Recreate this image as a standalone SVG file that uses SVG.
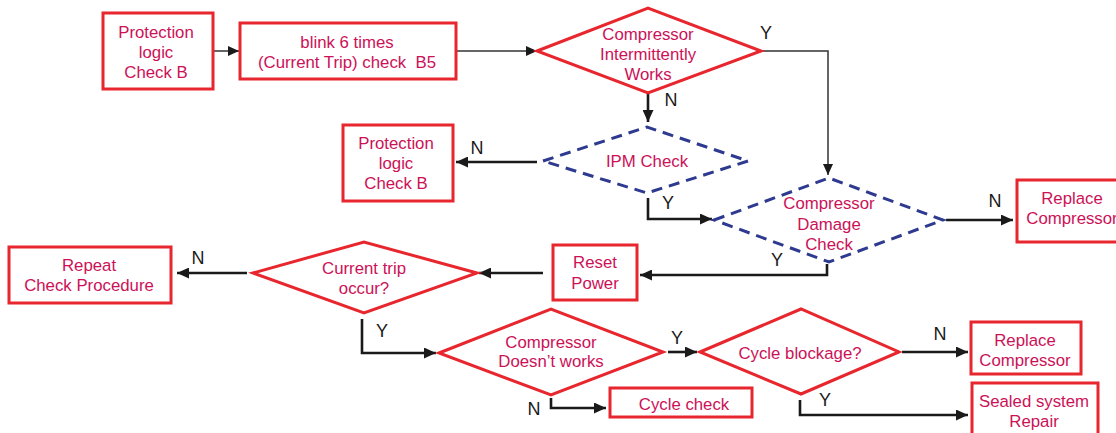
<svg xmlns="http://www.w3.org/2000/svg" width="1116" height="433" viewBox="0 0 1116 433">
<defs>
<style>
.box{fill:#fff;stroke:#e8262e;stroke-width:3}
.dia{fill:#fff;stroke:#e8262e;stroke-width:3;stroke-linejoin:miter}
.dash{fill:#fff;stroke:#2e3a8f;stroke-width:3;stroke-dasharray:11 7}
.t{font-family:"Liberation Sans",Arial,sans-serif;font-size:16.8px;fill:#cc1157;text-anchor:middle}
.lbl{font-family:"Liberation Sans",Arial,sans-serif;font-size:18px;fill:#1a1a1a;text-anchor:middle}
.thin{fill:none;stroke:#333;stroke-width:1.5;marker-end:url(#ah1)}
.thick{fill:none;stroke:#1a1a1a;stroke-width:2.6;marker-end:url(#ah2)}
</style>
<marker id="ah1" markerUnits="userSpaceOnUse" markerWidth="12" markerHeight="10" refX="11" refY="5" orient="auto"><path d="M0,0 L11,5 L0,10 z" fill="#1a1a1a"/></marker>
<marker id="ah2" markerUnits="userSpaceOnUse" markerWidth="13" markerHeight="11" refX="12" refY="5.5" orient="auto"><path d="M0,0 L12,5.5 L0,11 z" fill="#1a1a1a"/></marker>
</defs>
<rect width="1116" height="433" fill="#fff"/>
<g id="connectors">
<path class="thin" d="M213,51 H239"/>
<path class="thin" d="M456,51 H537"/>
<path class="thin" d="M761,51 H828 V175"/>
<path class="thick" d="M648,94 V122"/>
<path class="thick" d="M537,162 H456"/>
<path class="thick" d="M648,198 V219 H712"/>
<path class="thick" d="M946,220 H1013"/>
<path class="thick" d="M827,264 V275 H640"/>
<path class="thick" d="M543,273 H479"/>
<path class="thick" d="M247,273 H177"/>
<path class="thick" d="M362,319 V353 H436"/>
<path class="thick" d="M551,398 V408 H606"/>
<path class="thick" d="M668,352 H697"/>
<path class="thick" d="M902,352 H968"/>
<path class="thick" d="M800,400 V415 H968"/>
<text class="lbl" x="766" y="39">Y</text>
<text class="lbl" x="671" y="106">N</text>
<text class="lbl" x="477" y="154">N</text>
<text class="lbl" x="668" y="209">Y</text>
<text class="lbl" x="995" y="207">N</text>
<text class="lbl" x="777" y="266">Y</text>
<text class="lbl" x="198" y="264">N</text>
<text class="lbl" x="382" y="337">Y</text>
<text class="lbl" x="677" y="344">Y</text>
<text class="lbl" x="940" y="340">N</text>
<text class="lbl" x="825" y="406">Y</text>
<text class="lbl" x="534" y="415">N</text>
</g>
<g id="n1"><rect class="box" x="103" y="13" width="110" height="76"/>
<text class="t" x="156" y="38">Protection</text><text class="t" x="156" y="58">logic</text><text class="t" x="156" y="78">Check B</text></g>
<g id="n2"><rect class="box" x="240" y="23" width="216" height="56"/>
<text class="t" x="347" y="48">blink 6 times</text><text class="t" x="347" y="68" xml:space="preserve">(Current Trip) check  B5</text></g>
<g id="n3"><polygon class="dia" points="537,51 648,8 761,51 648,93"/>
<text class="t" x="648" y="40">Compressor</text><text class="t" x="648" y="60">Intermittently</text><text class="t" x="648" y="80">Works</text></g>
<g id="n4"><polygon class="dash" points="543,161 647,127 748,161 647,193"/>
<text class="t" x="647" y="167">IPM Check</text></g>
<g id="n5"><rect class="box" x="343" y="125" width="110" height="76"/>
<text class="t" x="396" y="149">Protection</text><text class="t" x="396" y="169">logic</text><text class="t" x="396" y="189">Check B</text></g>
<g id="n6"><polygon class="dash" points="714,220 829,178 943,220 829,262"/>
<text class="t" x="829" y="209">Compressor</text><text class="t" x="829" y="230">Damage</text><text class="t" x="829" y="250">Check</text></g>
<g id="n7"><rect class="box" x="1017" y="180" width="112" height="62"/>
<text class="t" x="1072" y="204">Replace</text><text class="t" x="1072" y="224">Compressor</text></g>
<g id="n8"><rect class="box" x="553" y="245" width="84" height="55"/>
<text class="t" x="595" y="268">Reset</text><text class="t" x="595" y="289">Power</text></g>
<g id="n9"><polygon class="dia" points="253,273 364,242 477,273 364,313"/>
<text class="t" x="364" y="274">Current trip</text><text class="t" x="364" y="294">occur?</text></g>
<g id="n10"><rect class="box" x="9" y="247" width="162" height="56"/>
<text class="t" x="89" y="271">Repeat</text><text class="t" x="89" y="291">Check Procedure</text></g>
<g id="n11"><polygon class="dia" points="439,353 551,309 663,352 551,395"/>
<text class="t" x="551" y="348">Compressor</text><text class="t" x="551" y="367">Doesn’t works</text></g>
<g id="n12"><polygon class="dia" points="700,352 801,309 899,352 801,394"/>
<text class="t" x="800" y="359">Cycle blockage?</text></g>
<g id="n13"><rect class="box" x="971" y="322" width="110" height="52"/>
<text class="t" x="1025" y="346">Replace</text><text class="t" x="1025" y="366">Compressor</text></g>
<g id="n14"><rect class="box" x="972" y="383" width="126" height="60"/>
<text class="t" x="1034" y="407">Sealed system</text><text class="t" x="1034" y="427">Repair</text></g>
<g id="n15"><rect class="box" x="610" y="388" width="142" height="29"/>
<text class="t" x="684" y="410">Cycle check</text></g>
</svg>
